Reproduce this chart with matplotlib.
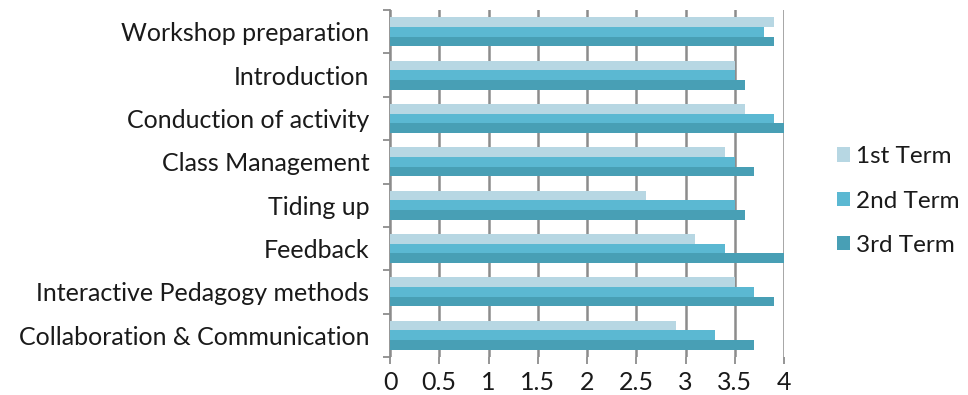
import numpy as np
import matplotlib
matplotlib.use("Agg")
import matplotlib.pyplot as plt

plt.rcParams['font.family'] = ['Lato', 'DejaVu Sans']

categories = ["Workshop preparation", "Introduction", "Conduction of activity",
              "Class Management", "Tiding up", "Feedback",
              "Interactive Pedagogy methods", "Collaboration & Communication"]
series_names = ["1st Term", "2nd Term", "3rd Term"]
term1 = [3.9, 3.5, 3.6, 3.4, 2.6, 3.1, 3.5, 2.9]
term2 = [3.8, 3.5, 3.9, 3.5, 3.5, 3.4, 3.7, 3.3]
term3 = [3.9, 3.6, 4.0, 3.7, 3.6, 4.0, 3.9, 3.7]
x_ticks = [0, 0.5, 1, 1.5, 2, 2.5, 3, 3.5, 4]

colors = ["#b7d7e3", "#5bb8d2", "#489fb5"]

fig = plt.figure(figsize=(9.68, 3.95), dpi=100)
ax = fig.add_axes([390 / 968, 1 - 357 / 395, 394 / 968, 347 / 395])

n = len(categories)
y = np.arange(n)[::-1]  # first category on top
h = 0.222
for i, vals in enumerate([term1, term2, term3]):
    ax.barh(y + (1 - i) * h, vals, height=h, color=colors[i],
            label=series_names[i], zorder=3)

ax.set_xlim(0, 4)
ax.set_ylim(-0.5, n - 0.5)
ax.set_xticks(x_ticks)
ax.set_xticklabels([f"{t:g}" for t in x_ticks])
ax.set_yticks(y)
ax.set_yticklabels(categories)
ax.tick_params(axis='y', length=0, pad=15, labelsize=18, labelcolor="#1a1a1a")
ax.set_yticks(np.arange(-0.5, n, 1), minor=True)
ax.tick_params(axis='y', which='minor', length=5, color="#8c8c8c", width=1.3)
ax.tick_params(axis='x', length=5, color="#8c8c8c", width=1.3, labelsize=18,
               labelcolor="#1a1a1a", pad=5)

ax.grid(axis='x', color="#8c8c8c", linewidth=1.8, zorder=0)
for side in ["top", "right", "bottom"]:
    ax.spines[side].set_visible(False)
ax.spines["left"].set_color("#8c8c8c")
ax.spines["left"].set_linewidth(1.3)

fig.legend(loc="center left", bbox_to_anchor=(837 / 968, 1 - 201 / 395),
           frameon=False, borderpad=0, borderaxespad=0,
           fontsize=17.5, handlelength=0.55, handleheight=0.55, handletextpad=0.25,
           labelspacing=0.95, labelcolor="#1a1a1a")

fig.savefig("out.png", dpi=100)
